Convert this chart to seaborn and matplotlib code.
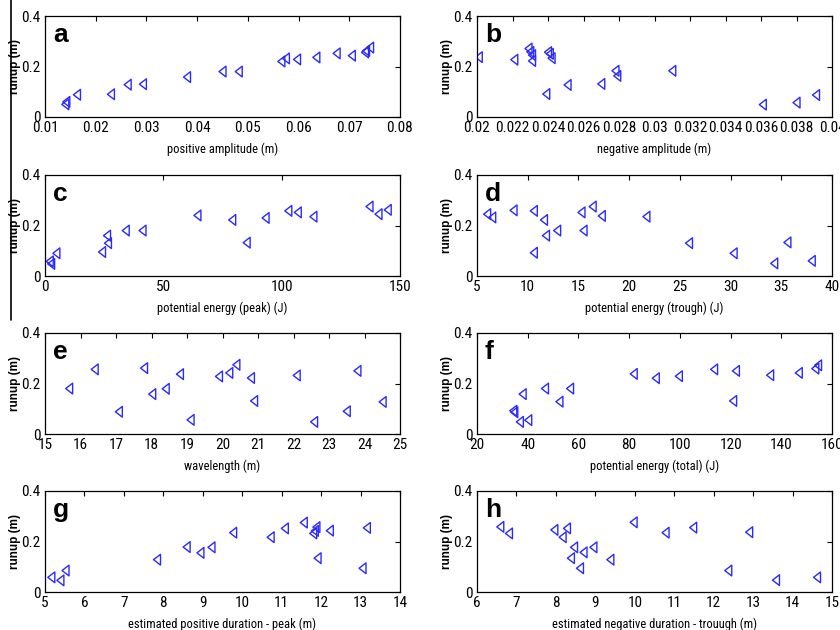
import numpy as np
import matplotlib
matplotlib.use("Agg")
import matplotlib.pyplot as plt
from matplotlib import font_manager
from matplotlib.lines import Line2D
from matplotlib.path import Path
from matplotlib.ticker import FuncFormatter
import seaborn as sns

# runup (m) against each wave parameter
pos_amp = [0.0140, 0.0142, 0.0163, 0.0230, 0.0263, 0.0293, 0.0380, 0.0450, 0.0482,
           0.0566, 0.0575, 0.0597, 0.0635, 0.0675, 0.0705, 0.0731, 0.0733, 0.0741]
pos_amp_runup = [0.050, 0.060, 0.088, 0.090, 0.128, 0.130, 0.158, 0.180, 0.180,
                 0.220, 0.232, 0.228, 0.236, 0.252, 0.243, 0.256, 0.262, 0.275]

neg_amp = [0.0201, 0.0221, 0.0229, 0.0230, 0.0231, 0.0231, 0.0239, 0.0240, 0.0241,
           0.0242, 0.0251, 0.0270, 0.0278, 0.0279, 0.0310, 0.0361, 0.0380, 0.0391]
neg_amp_runup = [0.237, 0.227, 0.271, 0.258, 0.245, 0.222, 0.091, 0.257, 0.250,
                 0.233, 0.127, 0.131, 0.183, 0.163, 0.183, 0.049, 0.057, 0.087]

pe_peak = [2.0, 2.6, 4.8, 24.1, 26.2, 26.6, 34.1, 41.2, 64.4,
           79.1, 85.2, 93.2, 102.8, 106.8, 113.4, 137.1, 140.9, 144.8]
pe_peak_runup = [0.058, 0.048, 0.090, 0.095, 0.160, 0.130, 0.180, 0.180, 0.240,
                 0.222, 0.132, 0.230, 0.258, 0.252, 0.235, 0.275, 0.245, 0.262]

pe_trough = [6.0, 6.5, 8.6, 10.6, 10.6, 11.6, 11.8, 12.9, 15.3,
             15.5, 16.4, 17.3, 21.7, 25.9, 30.3, 34.3, 35.6, 38.0]
pe_trough_runup = [0.245, 0.232, 0.260, 0.258, 0.092, 0.222, 0.160, 0.180, 0.252,
                   0.180, 0.275, 0.238, 0.235, 0.130, 0.090, 0.050, 0.133, 0.060]

wavelength = [15.68, 16.40, 17.08, 17.79, 18.02, 18.40, 18.80, 19.10, 19.90,
              20.19, 20.39, 20.80, 20.89, 22.09, 22.58, 23.50, 23.80, 24.51]
wavelength_runup = [0.180, 0.256, 0.088, 0.261, 0.158, 0.179, 0.237, 0.056, 0.228,
                    0.242, 0.274, 0.222, 0.131, 0.232, 0.048, 0.090, 0.250, 0.127]

pe_total = [34.3, 34.7, 36.9, 38.0, 40.2, 46.8, 52.5, 56.7, 81.8,
            90.5, 99.6, 113.5, 122.1, 121.0, 135.6, 146.9, 153.4, 154.5]
pe_total_runup = [0.092, 0.086, 0.048, 0.158, 0.055, 0.180, 0.128, 0.180, 0.238,
                  0.221, 0.229, 0.256, 0.250, 0.131, 0.233, 0.242, 0.259, 0.272]

pos_dur = [5.16, 5.39, 5.52, 7.84, 8.59, 8.94, 9.22, 9.77, 10.72,
           11.08, 11.56, 11.80, 11.84, 11.88, 11.91, 12.22, 13.05, 13.16]
pos_dur_runup = [0.058, 0.046, 0.085, 0.128, 0.178, 0.155, 0.177, 0.235, 0.217,
                 0.252, 0.275, 0.232, 0.242, 0.257, 0.134, 0.243, 0.094, 0.254]

neg_dur = [6.59, 6.81, 7.96, 8.17, 8.28, 8.38, 8.46, 8.61, 8.70,
           8.95, 9.38, 9.97, 10.78, 11.48, 12.37, 12.90, 13.58, 14.62]
neg_dur_runup = [0.258, 0.232, 0.246, 0.217, 0.252, 0.134, 0.177, 0.094, 0.157,
                 0.177, 0.128, 0.276, 0.235, 0.255, 0.085, 0.237, 0.047, 0.058]

panel_letters = ["a", "b", "c", "d", "e", "f", "g", "h"]
x_labels = ["positive amplitude (m)", "negative amplitude (m)",
            "potential energy (peak) (J)", "potential energy (trough) (J)",
            "wavelength (m)", "potential energy (total) (J)",
            "estimated positive duration - peak (m)",
            "estimated negative duration - trouugh (m)"]
x_ticks = [np.arange(0.01, 0.0801, 0.01), np.arange(0.02, 0.04001, 0.002),
           [0, 50, 100, 150], np.arange(5, 41, 5),
           np.arange(15, 26, 1), np.arange(20, 161, 20),
           np.arange(5, 15, 1), np.arange(6, 16, 1)]
y_ticks = [0, 0.2, 0.4]

xs = [pos_amp, neg_amp, pe_peak, pe_trough, wavelength, pe_total, pos_dur, neg_dur]
ys = [pos_amp_runup, neg_amp_runup, pe_peak_runup, pe_trough_runup,
      wavelength_runup, pe_total_runup, pos_dur_runup, neg_dur_runup]

sns.set_style("white")

# look for a narrow face like the original's; otherwise plain Liberation Sans
installed = {f.name for f in font_manager.fontManager.ttflist}
narrow = [n for n in installed if ("Narrow" in n or "Condensed" in n) and "CJK" not in n]
pref = ["Liberation Sans Narrow", "Arial Narrow", "DejaVu Sans Condensed",
        "Noto Sans Condensed", "Roboto Condensed", "Open Sans Condensed"]
narrow_font = next((n for n in pref if n in installed), narrow[0] if narrow else None)
tick_family = [narrow_font, "DejaVu Sans"] if narrow_font else ["Liberation Sans", "DejaVu Sans"]
tick_size = 11 if narrow_font else 9
plt.rcParams["font.family"] = tick_family
plt.rcParams["text.color"] = "black"
plt.rcParams["axes.labelcolor"] = "black"

W, H = 840, 630
fig = plt.figure(figsize=(8.4, 6.3), dpi=100)

lefts = [45, 477]
tops = [16, 175, 333, 491]
aw, ah = 355, 101

marker_color = "#2a2aff"
tri = Path([(-0.65, 0), (0.65, 1), (0.65, -1), (-0.65, 0)],
           [Path.MOVETO, Path.LINETO, Path.LINETO, Path.CLOSEPOLY])
fmt = FuncFormatter(lambda v, p: "{:g}".format(round(v, 6)))

for i in range(8):
    row, col = divmod(i, 2)
    ax = fig.add_axes([lefts[col] / W, 1 - (tops[row] + ah) / H, aw / W, ah / H])
    sns.scatterplot(x=xs[i], y=ys[i], marker=tri, s=60, color=marker_color,
                    facecolor="none", edgecolor=marker_color, linewidth=1.0, ax=ax)
    ax.set_xlim(x_ticks[i][0], x_ticks[i][-1])
    ax.set_ylim(0, 0.4)
    ax.set_xticks(x_ticks[i])
    ax.set_yticks(y_ticks)
    ax.xaxis.set_major_formatter(fmt)
    ax.yaxis.set_major_formatter(fmt)
    ax.tick_params(direction="in", length=3.5, width=0.8, top=True, right=True,
                   labelsize=tick_size, pad=3, colors="black")
    for sp in ax.spines.values():
        sp.set_visible(True)
        sp.set_color("black")
        sp.set_linewidth(0.9)
    ax.set_xlabel(x_labels[i], fontsize=9, labelpad=5)
    ax.set_ylabel("runup (m)", fontsize=8.5, fontweight="bold",
                  family=["Liberation Sans", "DejaVu Sans"])
    ax.yaxis.set_label_coords(-24 / aw, 0.5)
    ax.text(0.022, 0.93, panel_letters[i], transform=ax.transAxes, ha="left",
            va="top", fontsize=19, fontweight="bold", color="black",
            family=["Liberation Sans", "DejaVu Sans"])

# stray border line on the left edge of the source image
fig.add_artist(Line2D([11 / W, 11 / W], [1, 1 - 320 / H], transform=fig.transFigure,
                      color="black", linewidth=1.2))

fig.savefig("out.png", dpi=100)
